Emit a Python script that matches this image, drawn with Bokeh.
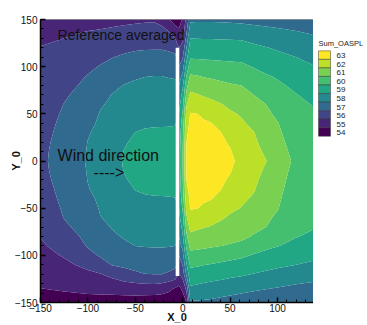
import numpy as np
from bokeh.plotting import figure
from bokeh.layouts import row
from bokeh.models import Range1d, SingleIntervalTicker
from bokeh.core.properties import value
from bokeh.embed import file_html
from bokeh.resources import INLINE

# ---- data ----
x_pos = [-150, -125, -100, -87, -75, -62, -50, -40, -30, -22, -15, -8, -4, 0, 4, 8,
         15, 22, 30, 40, 50, 62, 75, 88, 100, 120, 140]
y_pos = [-150, -135, -120, -110, -100, -90, -80, -70, -60, -50, -40, -30, -20, -10, 0,
         10, 20, 30, 40, 50, 60, 70, 80, 90, 100, 110, 120, 135, 150]

# Sum_OASPL sampled per x column (one list per x in x_pos), from y=-150 up to y=150
oaspl_by_x = [
    [54.7, 55.0, 55.3, 55.5, 55.7, 55.87, 56.03, 56.2, 56.35, 56.48, 56.6, 56.68, 56.75, 56.79, 56.8, 56.8, 56.78, 56.74, 56.7, 56.65, 56.6, 56.53, 56.45, 56.36, 56.25, 56.15, 56.03, 55.75, 55.5],
    [54.7, 55.09, 55.51, 55.8, 56.08, 56.33, 56.59, 56.85, 57.03, 57.1, 57.17, 57.23, 57.3, 57.37, 57.44, 57.37, 57.3, 57.23, 57.16, 57.09, 57.02, 56.9, 56.75, 56.6, 56.46, 56.31, 56.16, 55.92, 55.6],
    [54.7, 55.2, 55.8, 56.25, 56.75, 57.07, 57.22, 57.37, 57.51, 57.66, 57.81, 57.96, 58.02, 58.05, 58.08, 58.05, 58.02, 57.94, 57.79, 57.64, 57.49, 57.34, 57.19, 57.04, 56.84, 56.62, 56.4, 56.07, 55.7],
    [54.65, 55.26, 55.95, 56.6, 57.09, 57.31, 57.53, 57.76, 57.98, 58.06, 58.14, 58.21, 58.28, 58.35, 58.42, 58.35, 58.27, 58.2, 58.13, 58.05, 57.93, 57.71, 57.49, 57.27, 57.05, 56.8, 56.53, 56.13, 55.72],
    [54.6, 55.33, 56.25, 57.03, 57.3, 57.57, 57.84, 58.04, 58.14, 58.24, 58.34, 58.44, 58.54, 58.64, 58.74, 58.64, 58.53, 58.43, 58.33, 58.23, 58.12, 58.02, 57.78, 57.51, 57.24, 56.97, 56.67, 56.21, 55.75],
    [54.55, 55.42, 56.6, 57.19, 57.52, 57.84, 58.07, 58.22, 58.36, 58.5, 58.65, 58.79, 58.94, 59.02, 59.05, 59.02, 58.93, 58.78, 58.63, 58.48, 58.33, 58.18, 58.03, 57.75, 57.43, 57.12, 56.79, 56.29, 55.8],
    [54.5, 55.5, 56.85, 57.3, 57.65, 58.0, 58.17, 58.34, 58.51, 58.68, 58.85, 59.02, 59.13, 59.24, 59.35, 59.24, 59.12, 59.01, 58.83, 58.66, 58.48, 58.3, 58.13, 57.91, 57.57, 57.23, 56.88, 56.35, 55.85],
    [54.45, 55.54, 56.98, 57.36, 57.73, 58.04, 58.22, 58.4, 58.58, 58.75, 58.93, 59.08, 59.22, 59.36, 59.5, 59.36, 59.22, 59.07, 58.91, 58.73, 58.54, 58.36, 58.17, 57.98, 57.63, 57.28, 56.92, 56.39, 55.88],
    [54.4, 55.55, 57.0, 57.37, 57.74, 58.05, 58.23, 58.41, 58.59, 58.77, 58.95, 59.11, 59.28, 59.44, 59.6, 59.43, 59.27, 59.1, 58.93, 58.74, 58.56, 58.37, 58.19, 58.0, 57.64, 57.29, 56.93, 56.41, 55.9],
    [54.4, 55.44, 57.0, 57.37, 57.74, 58.05, 58.23, 58.41, 58.59, 58.77, 58.95, 59.12, 59.28, 59.44, 59.6, 59.44, 59.27, 59.11, 58.93, 58.75, 58.57, 58.38, 58.19, 58.0, 57.64, 57.29, 56.93, 56.39, 55.7],
    [54.4, 55.22, 56.89, 57.33, 57.7, 58.04, 58.22, 58.41, 58.59, 58.78, 58.96, 59.12, 59.26, 59.41, 59.55, 59.4, 59.25, 59.1, 58.94, 58.75, 58.56, 58.37, 58.17, 57.96, 57.61, 57.25, 56.86, 56.18, 55.1],
    [54.2, 54.95, 56.63, 57.26, 57.63, 58.0, 58.2, 58.39, 58.59, 58.78, 58.98, 59.12, 59.24, 59.37, 59.5, 59.37, 59.24, 59.11, 58.96, 58.76, 58.56, 58.36, 58.16, 57.93, 57.56, 57.19, 56.69, 55.69, 54.5],
    [54.1, 54.8, 55.9, 56.5, 57.0, 57.52, 58.0, 58.37, 58.7, 58.97, 59.2, 59.37, 59.5, 59.57, 59.6, 59.57, 59.5, 59.37, 59.2, 58.97, 58.7, 58.37, 58.0, 57.52, 57.0, 56.5, 56.0, 55.4, 54.4],
    [54.4, 55.2, 56.4, 57.05, 57.7, 58.3, 58.9, 59.3, 59.7, 60.15, 60.5, 60.75, 60.9, 60.97, 61.0, 60.97, 60.9, 60.75, 60.5, 60.15, 59.7, 59.3, 58.85, 58.25, 57.6, 56.95, 56.3, 55.6, 55.1],
    [55.0, 56.3, 58.2, 58.9, 59.6, 60.2, 60.8, 61.35, 61.85, 62.3, 62.6, 62.85, 63.0, 63.08, 63.1, 63.08, 63.0, 62.88, 62.7, 62.35, 61.9, 61.3, 60.7, 60.05, 59.4, 58.7, 58.0, 57.0, 56.3],
    [57.9, 58.85, 59.64, 60.17, 60.73, 61.27, 61.77, 62.27, 62.76, 63.05, 63.14, 63.23, 63.32, 63.41, 63.5, 63.41, 63.31, 63.22, 63.13, 63.04, 62.69, 62.18, 61.64, 61.1, 60.49, 59.91, 59.48, 58.75, 57.8],
    [57.88, 58.77, 59.59, 60.11, 60.69, 61.22, 61.69, 62.15, 62.62, 63.02, 63.13, 63.23, 63.34, 63.44, 63.55, 63.44, 63.33, 63.22, 63.12, 63.01, 62.55, 62.07, 61.55, 61.03, 60.45, 59.9, 59.47, 58.74, 57.85],
    [57.85, 58.7, 59.51, 60.03, 60.62, 61.16, 61.61, 62.05, 62.48, 62.9, 63.09, 63.2, 63.32, 63.43, 63.55, 63.43, 63.32, 63.2, 63.09, 62.88, 62.4, 61.92, 61.43, 60.94, 60.39, 59.87, 59.45, 58.73, 57.85],
    [57.8, 58.61, 59.43, 59.95, 60.54, 61.09, 61.52, 61.95, 62.34, 62.72, 63.03, 63.15, 63.27, 63.38, 63.5, 63.38, 63.26, 63.14, 63.02, 62.65, 62.23, 61.8, 61.34, 60.86, 60.34, 59.86, 59.44, 58.73, 57.85],
    [57.7, 58.51, 59.33, 59.85, 60.42, 61.01, 61.39, 61.76, 62.12, 62.44, 62.76, 63.03, 63.14, 63.24, 63.35, 63.24, 63.14, 63.03, 62.75, 62.4, 62.05, 61.63, 61.21, 60.77, 60.29, 59.83, 59.42, 58.7, 57.83],
    [57.6, 58.4, 59.23, 59.74, 60.31, 60.92, 61.27, 61.58, 61.89, 62.16, 62.41, 62.65, 62.9, 63.06, 63.15, 63.06, 62.92, 62.66, 62.4, 62.13, 61.82, 61.46, 61.09, 60.68, 60.24, 59.81, 59.4, 58.69, 57.8],
    [57.5, 58.28, 59.13, 59.62, 60.16, 60.79, 61.18, 61.45, 61.71, 61.97, 62.15, 62.31, 62.47, 62.63, 62.79, 62.62, 62.46, 62.29, 62.12, 61.91, 61.61, 61.3, 61.0, 60.6, 60.19, 59.79, 59.38, 58.66, 57.75],
    [57.4, 58.16, 58.96, 59.45, 59.93, 60.43, 60.93, 61.2, 61.43, 61.66, 61.89, 62.06, 62.17, 62.29, 62.4, 62.28, 62.15, 62.03, 61.79, 61.53, 61.27, 61.0, 60.65, 60.3, 59.95, 59.58, 59.2, 58.48, 57.7],
    [57.35, 58.05, 58.82, 59.3, 59.75, 60.19, 60.59, 61.0, 61.15, 61.29, 61.44, 61.58, 61.73, 61.87, 62.02, 61.85, 61.68, 61.51, 61.34, 61.17, 61.0, 60.7, 60.39, 60.08, 59.74, 59.39, 59.04, 58.35, 57.65],
    [57.3, 57.96, 58.7, 59.18, 59.61, 60.03, 60.31, 60.59, 60.87, 61.05, 61.14, 61.24, 61.33, 61.43, 61.52, 61.4, 61.28, 61.16, 61.04, 60.84, 60.61, 60.39, 60.16, 59.9, 59.58, 59.25, 58.89, 58.26, 57.6],
    [57.2, 57.8, 58.5, 59.0, 59.38, 59.76, 60.03, 60.13, 60.23, 60.32, 60.42, 60.51, 60.61, 60.7, 60.8, 60.69, 60.58, 60.47, 60.36, 60.25, 60.14, 60.03, 59.8, 59.53, 59.27, 59.0, 58.64, 58.11, 57.5],
    [57.15, 57.7, 58.33, 58.81, 59.19, 59.52, 59.84, 60.03, 60.08, 60.13, 60.19, 60.24, 60.29, 60.35, 60.4, 60.33, 60.26, 60.19, 60.12, 60.06, 59.95, 59.72, 59.49, 59.26, 59.02, 58.72, 58.41, 57.94, 57.45],
]

levels = [53, 55, 56, 57, 58, 59, 60, 61, 62, 63, 65]
legend_labels = ["54", "55", "56", "57", "58", "59", "60", "61", "62", "63"]
band_colors = ["#440154", "#482576", "#414487", "#306a8e", "#23898e",
               "#22a785", "#44bf70", "#7ad151", "#bcdf27", "#fde725"]
legend_title = "Sum_OASPL"

barrier_x = -5.5
barrier_y = [-122, 120]
barrier_width = 3.8

note_texts = ["Reference averaged", "Wind direction", "---->"]
note_x = [-132, -132, -94]
note_y = [134, 6, -12]
note_sizes = ["14px", "16px", "16px"]

FONT = "Liberation Sans"
H = 325

# ---- main contour figure ----
p = figure(width=313, height=H,
           x_range=Range1d(-150, 138), y_range=Range1d(-150, 150),
           output_backend="svg", toolbar_location=None,
           min_border_left=40, min_border_top=19, min_border_right=0, min_border_bottom=23)
p.grid.visible = False
p.outline_line_color = "#9a9a9a"
p.outline_line_width = 1

z = np.array(oaspl_by_x, dtype=float).T
p.contour(np.array(x_pos, dtype=float), np.array(y_pos, dtype=float), z, levels,
          fill_color=band_colors)

p.rect(x=[barrier_x], y=[(barrier_y[0] + barrier_y[1]) / 2],
       width=barrier_width, height=barrier_y[1] - barrier_y[0],
       fill_color="white", line_color=None)

for t, xx, yy, fs in zip(note_texts, note_x, note_y, note_sizes):
    p.text(x=[xx], y=[yy], text=[t], text_font=value(FONT), text_font_size=fs,
           text_baseline="middle", text_align="left", text_color="#111111")

for ax in (p.xaxis[0], p.yaxis[0]):
    ax.ticker = SingleIntervalTicker(interval=50, num_minor_ticks=5)
    ax.major_tick_in = 5
    ax.major_tick_out = 0
    ax.minor_tick_in = 3
    ax.minor_tick_out = 0
    ax.axis_line_width = 1.5
    ax.major_tick_line_width = 1.5
    ax.major_label_text_font = FONT
    ax.major_label_text_font_size = "10px"
    ax.major_label_text_color = "#111111"
    ax.axis_label_text_font = FONT
    ax.axis_label_text_font_style = "bold"
    ax.axis_label_text_font_size = "11px"
    ax.axis_label_text_color = "#111111"
p.xaxis[0].major_label_standoff = 1
p.xaxis[0].axis_label = "X_0"
p.xaxis[0].axis_label_standoff = -4
p.yaxis[0].major_label_standoff = 3
p.yaxis[0].axis_label = "Y_0"
p.yaxis[0].axis_label_standoff = -10

# ---- contour level key, drawn as its own small panel ----
LEG_W = 54
box_top, box_h, box_left, box_w = 36, 9.8, 5, 12
order = list(range(len(legend_labels)))[::-1]          # 63 at the top
box_y = [box_top + box_h * (k + 0.5) for k in range(len(order))]

lg = figure(width=LEG_W, height=H, x_range=Range1d(0, LEG_W), y_range=Range1d(H, 0),
            output_backend="svg", toolbar_location=None,
            min_border=0, min_border_left=0, min_border_right=0,
            min_border_top=0, min_border_bottom=0)
lg.axis.visible = False
lg.grid.visible = False
lg.outline_line_color = None
lg.rect(x=[box_left + box_w / 2] * len(order), y=box_y, width=box_w, height=box_h,
        fill_color=[band_colors[i] for i in order], line_color="#3a3a3a", line_width=0.5)
lg.text(x=[box_left + box_w + 6] * len(order), y=[v + 0.8 for v in box_y],
        text=[legend_labels[i] for i in order], text_font=value(FONT),
        text_font_size="8px", text_baseline="middle", text_align="left",
        text_color="#222222")
lg.text(x=[box_left], y=[27.5], text=[legend_title], text_font=value(FONT),
        text_font_size="7.5px", text_baseline="middle", text_align="left",
        text_color="#222222")

layout = row(p, lg)
open("out.html", "w").write(file_html(layout, INLINE))
